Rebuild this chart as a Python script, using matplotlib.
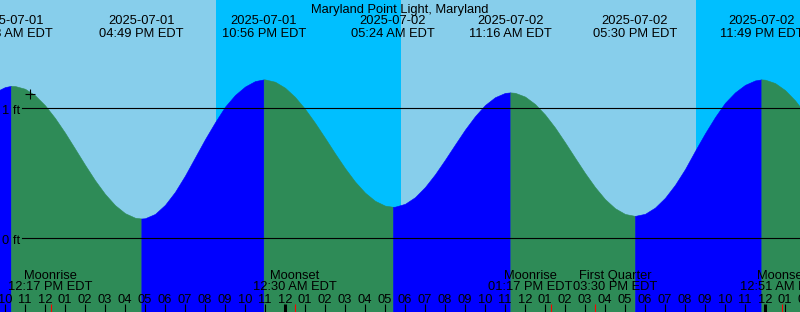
import numpy as np
import pandas as pd
import matplotlib
matplotlib.use("Agg")
import matplotlib.pyplot as plt
from matplotlib.transforms import blended_transform_factory

plt.rcParams['font.family'] = ['Liberation Sans', 'DejaVu Sans']

station = "Maryland Point Light, Maryland"
t0 = pd.Timestamp("2025-07-01 00:00")

# high / low tides
extreme_times = ["2025-07-01 10:18", "2025-07-01 16:49", "2025-07-01 22:56",
                 "2025-07-02 05:24", "2025-07-02 11:16", "2025-07-02 17:30",
                 "2025-07-02 23:49"]
extreme_levels = [1.17, 0.15, 1.22, 0.24, 1.12, 0.17, 1.22]

# water level (ft) every 30 minutes
sample_start = "2025-07-01 09:30"
levels = [1.123, 1.161, 1.169, 1.148, 1.098, 1.021, 0.923, 0.810, 0.687, 0.563,
          0.444, 0.339, 0.253, 0.191, 0.156, 0.152, 0.185, 0.255, 0.355, 0.480,
          0.620, 0.760, 0.890, 1.010, 1.100, 1.165, 1.207, 1.220, 1.202, 1.156,
          1.085, 0.993, 0.886, 0.770, 0.651, 0.537, 0.434, 0.349, 0.286, 0.249,
          0.241, 0.263, 0.314, 0.392, 0.490, 0.602, 0.719, 0.834, 0.937, 1.023,
          1.083, 1.116, 1.117, 1.088, 1.031, 0.950, 0.850, 0.736, 0.617, 0.500,
          0.392, 0.299, 0.229, 0.185, 0.170, 0.186, 0.234, 0.309, 0.409, 0.530,
          0.670, 0.805, 0.930, 1.040, 1.120, 1.178, 1.212, 1.218, 1.192, 1.138,
          1.059, 0.959]

# night (sunset -> sunrise)
night_start = ["2025-07-01 20:33", "2025-07-02 20:33"]
night_end = ["2025-07-02 05:48", "2025-07-03 06:00"]

# moon events
moon_names = ["Moonrise", "Moonset", "Moonrise", "First Quarter", "Moonset"]
moon_times = ["2025-07-01 12:17", "2025-07-02 00:30", "2025-07-02 13:17",
              "2025-07-02 15:30", "2025-07-03 00:51"]

now_time = "2025-07-01 11:15"
now_level = 1.108


def hours(ts):
    return (pd.to_datetime(ts) - t0) / pd.Timedelta(hours=1)


ext_t = np.array(hours(extreme_times), dtype=float)
ext_h = np.array(extreme_levels)
samp_t = np.array(hours(pd.date_range(sample_start, periods=len(levels), freq="30min")), dtype=float)

t_all = np.concatenate([samp_t, ext_t])
h_all = np.concatenate([np.array(levels), ext_h])
t_all, idx = np.unique(t_all, return_index=True)
h_all = h_all[idx]

W, H = 800, 312
x0, x1 = 9.75, 49.75
y0, y1 = -74 / 130, 238 / 130
FS = 9.3
dy = 2.5  # text sits a bit lower than matplotlib's "center"

fig = plt.figure(figsize=(W / 100, H / 100), dpi=100, facecolor="#87CEEB")
ax = fig.add_axes([0, 0, 1, 1])
ax.set_axis_off()
ax.set_xlim(x0, x1)
ax.set_ylim(y0, y1)
tr = blended_transform_factory(ax.transData, ax.transAxes)


def yf(px):
    return 1 - px / H


for a, b in zip(hours(night_start), hours(night_end)):
    ax.axvspan(a, b, color="#00BFFF", lw=0, zorder=0)

# flood (rising) blue, ebb (falling) green
bounds = [t_all[0]] + list(ext_t) + [t_all[-1]]
for i in range(len(bounds) - 1):
    a, b = bounds[i], bounds[i + 1]
    m = (t_all >= a) & (t_all <= b)
    ha, hb = h_all[m][0], h_all[m][-1]
    col = "#0000FF" if hb > ha else "#2E8B57"
    ax.fill_between(t_all[m], h_all[m], y0, color=col, lw=0.4, ec=col, zorder=1)

for lvl in [0, 1]:
    ax.axhline(lvl, xmin=22 / W, xmax=1, color="black", lw=0.8, zorder=2)
    ax.text(x0 + 2.5 / 20, yf(238 - lvl * 130 + dy), f"{lvl} ft", transform=tr,
            ha="left", va="center", fontsize=FS, zorder=3)

ax.plot(hours(now_time), now_level, marker="+", ms=6.5, mew=0.8, color="black", zorder=3)

ax.text(0.5, yf(7.3 + dy), station, transform=ax.transAxes, ha="center", va="center", fontsize=FS)
for ts in pd.to_datetime(extreme_times):
    t = hours(ts)
    ax.text(t, yf(19 + dy), ts.strftime("%Y-%m-%d"), transform=tr, ha="center", va="center", fontsize=FS)
    ax.text(t, yf(31.5 + dy), ts.strftime("%I:%M %p EDT"), transform=tr, ha="center", va="center", fontsize=FS)

# hour ticks
for hr in range(9, 51):
    lab = f"{(hr - 1) % 12 + 1:02d}"
    ax.text(hr, yf(297.3 + dy), lab, transform=tr, ha="center", va="center", fontsize=FS, zorder=3)
    ax.vlines(hr, yf(312), yf(304), transform=tr, color="black",
              lw=2.2 if hr % 24 == 0 else 0.8, zorder=3)

# moon labels, pushed apart when they overlap
mt = np.array(hours(moon_times), dtype=float)
centers = mt.copy()
lab_w = 4.25
for i in range(len(centers) - 1):
    if centers[i + 1] - centers[i] < lab_w:
        mid = (centers[i] + centers[i + 1]) / 2
        centers[i] = mid - lab_w / 2
        centers[i + 1] = mid + lab_w / 2
for name, ts, t, c in zip(moon_names, pd.to_datetime(moon_times), mt, centers):
    ax.vlines(t, yf(312), yf(304), transform=tr, color="red", lw=0.8, zorder=3)
    ax.text(c, yf(273.3 + dy), name, transform=tr, ha="center", va="center", fontsize=FS, zorder=3)
    ax.text(c, yf(285 + dy), ts.strftime("%I:%M %p EDT"), transform=tr, ha="center", va="center", fontsize=FS, zorder=3)

fig.savefig("out.png", dpi=100, facecolor=fig.get_facecolor())
